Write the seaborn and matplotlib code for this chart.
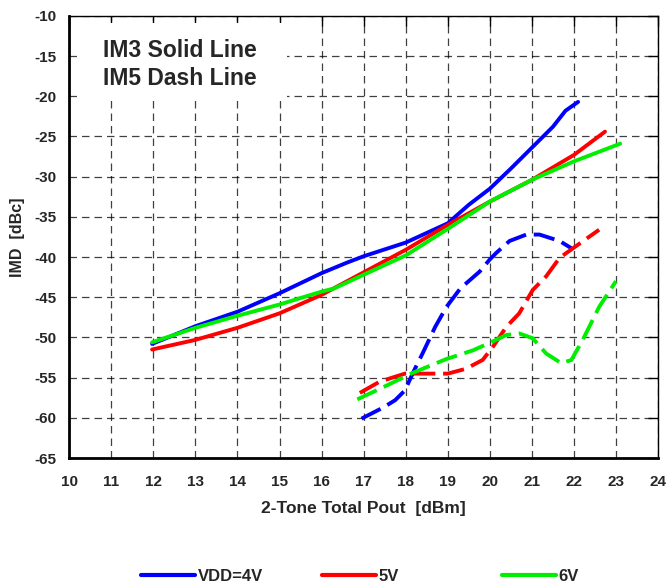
import matplotlib
matplotlib.use("Agg")
import matplotlib.pyplot as plt
from matplotlib.lines import Line2D
from matplotlib.patches import Rectangle
import pandas as pd
import seaborn as sns

# IM3 (solid) curves: Pout [dBm] vs IMD [dBc]
im3_4v_x = [11.97, 13, 14, 15, 16, 16.6, 17, 18, 19, 19.5, 20, 20.5, 21, 21.5, 21.8, 22.1]
im3_4v_y = [-50.8, -48.6, -46.8, -44.5, -42.0, -40.7, -39.9, -38.2, -35.8, -33.5, -31.5, -29.0, -26.4, -23.8, -21.8, -20.7]

im3_5v_x = [11.97, 13, 14, 15, 16, 17, 18, 19, 20, 21, 22, 22.74]
im3_5v_y = [-51.5, -50.3, -48.8, -47.0, -44.7, -41.9, -39.1, -36.0, -33.1, -30.4, -27.3, -24.4]

im3_6v_x = [11.97, 13, 14, 15, 16, 16.3, 17, 18, 19, 20, 21, 22, 23.1]
im3_6v_y = [-50.6, -48.8, -47.3, -45.9, -44.3, -43.9, -42.2, -39.8, -36.5, -33.1, -30.4, -28.1, -25.9]

# IM5 (dashed) curves
im5_4v_x = [16.95, 17.47, 17.75, 17.98, 18.2, 18.4, 18.7, 18.97, 19.3, 19.76, 20.0, 20.15, 20.47, 20.87, 21.18, 21.66, 21.94]
im5_4v_y = [-60.1, -58.7, -57.8, -56.6, -54.1, -52.0, -48.7, -46.2, -43.9, -41.8, -40.3, -39.5, -38.0, -37.2, -37.2, -38.0, -38.9]

im5_5v_x = [16.91, 17.38, 17.98, 18.49, 19.0, 19.43, 19.83, 20.07, 20.39, 20.7, 21.02, 21.34, 21.66, 21.98, 22.6]
im5_5v_y = [-56.9, -55.5, -54.5, -54.5, -54.5, -53.9, -52.8, -51.2, -48.7, -47.0, -44.1, -42.4, -40.1, -38.9, -36.6]

im5_6v_x = [16.85, 17.38, 18.17, 18.96, 19.6, 20.07, 20.39, 20.7, 21.02, 21.34, 21.7, 21.94, 22.21, 22.6, 23.0]
im5_6v_y = [-57.7, -56.4, -54.4, -52.7, -51.6, -50.5, -49.7, -49.5, -50.1, -52.0, -53.2, -52.8, -50.3, -46.2, -43.0]

vdd_labels = ["VDD=4V", "5V", "6V"]
colors = ["#0000ff", "#ff0000", "#00ee00"]

x_ticks = list(range(10, 25))
y_ticks = list(range(-65, -5, 5))

series = [
    ("VDD=4V", "IM3", im3_4v_x, im3_4v_y),
    ("5V", "IM3", im3_5v_x, im3_5v_y),
    ("6V", "IM3", im3_6v_x, im3_6v_y),
    ("VDD=4V", "IM5", im5_4v_x, im5_4v_y),
    ("5V", "IM5", im5_5v_x, im5_5v_y),
    ("6V", "IM5", im5_6v_x, im5_6v_y),
]
rows = []
for vdd, kind, xs, ys in series:
    for x, y in zip(xs, ys):
        rows.append({"vdd": vdd, "kind": kind, "pout": x, "imd": y})
df = pd.DataFrame(rows)

sns.set_style("white")
plt.rcParams["font.family"] = ["Liberation Sans", "DejaVu Sans"]
plt.rcParams["font.weight"] = "bold"
plt.rcParams["axes.unicode_minus"] = False

fig = plt.figure(figsize=(6.66, 5.88), dpi=100)
ax = fig.add_axes([0.104, 0.221, 0.884, 0.752])
ax.set_axisbelow(True)

sns.lineplot(
    data=df, x="pout", y="imd", hue="vdd", style="kind",
    hue_order=vdd_labels, palette=dict(zip(vdd_labels, colors)),
    dashes={"IM3": "", "IM5": (5.5, 2)},
    estimator=None, sort=False, legend=False,
    linewidth=2.8, ax=ax, zorder=3,
)

ax.set_xlim(10, 24)
ax.set_ylim(-65, -10)
ax.set_xticks(x_ticks)
ax.set_yticks(y_ticks)
ax.tick_params(direction="in", length=7, width=1, top=True, right=True,
               labelsize=11, color="black")
ax.tick_params(axis="x", pad=12)
ax.tick_params(axis="y", pad=9)
for lab in ax.get_xticklabels() + ax.get_yticklabels():
    lab.set_fontweight("bold")
ax.grid(True, color="black", linestyle=(0, (6, 4)), linewidth=0.9, alpha=0.75)
for side in ["top", "right"]:
    ax.spines[side].set_linewidth(1.0)
    ax.spines[side].set_color("black")
for side in ["left", "bottom"]:
    ax.spines[side].set_linewidth(2.0)
    ax.spines[side].set_color("black")

ax.set_xlabel("2-Tone Total Pout  [dBm]", fontsize=12.5, fontweight="bold", labelpad=9)
ax.set_ylabel("IMD  [dBc]", fontsize=11.5, fontweight="bold", labelpad=7)

# white patch behind the note hides the grid but leaves the ticks
ax.add_patch(Rectangle((0.013, 0.808), 0.357, 0.176, transform=ax.transAxes,
                       facecolor="white", edgecolor="none", zorder=1))
ax.text(0.0577, 0.8896, "IM3 Solid Line\nIM5 Dash Line", transform=ax.transAxes,
        fontsize=16.5, fontweight="bold", va="center", ha="left",
        linespacing=1.27, zorder=4)

# three evenly spaced legend entries along the bottom
legend_x = [0.212, 0.483, 0.754]
for c, lab, lx in zip(colors, vdd_labels, legend_x):
    fig.legend([Line2D([0], [0], color=c, lw=3)], [lab], loc="center left",
               bbox_to_anchor=(lx, 0.019), frameon=False,
               handlelength=3.25, handletextpad=0.15, borderpad=0,
               borderaxespad=0, prop={"weight": "bold", "size": 12})

fig.savefig("out.png", dpi=100)
